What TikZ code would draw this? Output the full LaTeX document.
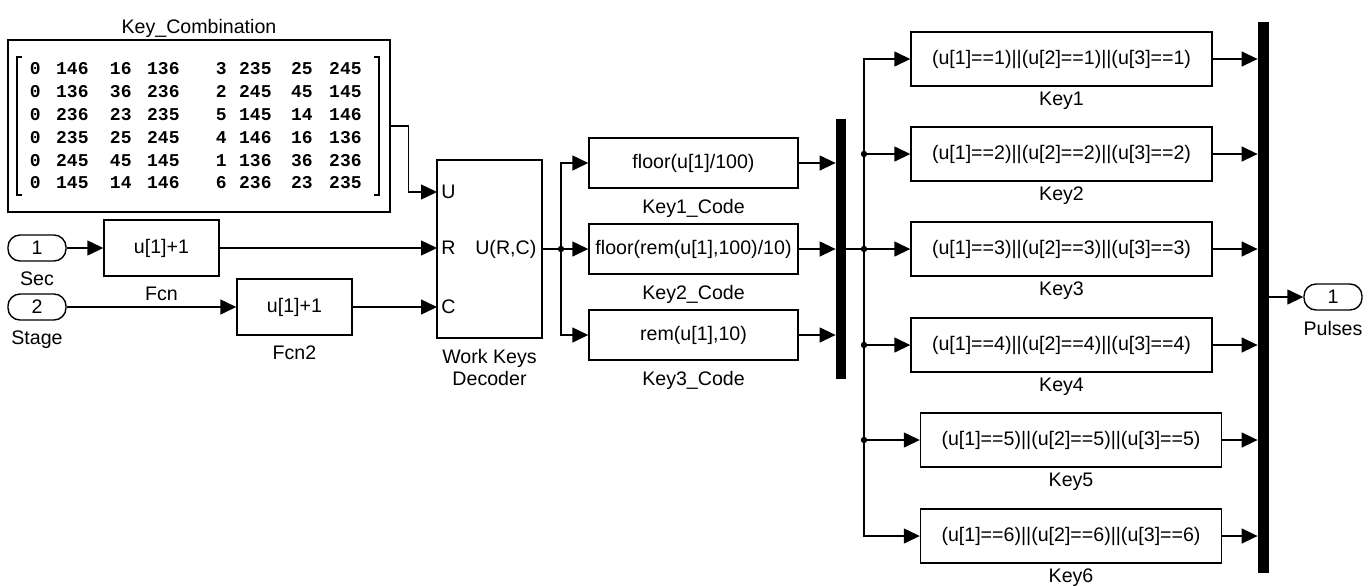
\documentclass[tikz,border=0pt]{standalone}
\usepackage{fontspec}
\setmainfont{Liberation Sans}
\newfontfamily\matfont{Liberation Mono}
\usetikzlibrary{arrows.meta, positioning, calc}

\begin{document}
\begin{tikzpicture}[x=0.5pt, y=-0.5pt,
		font=\fontsize{9.8}{11}\selectfont,
		blk/.style={draw, line width=0.7pt, inner sep=1pt},
		port/.style={draw, line width=0.7pt, rounded corners=6pt,
			minimum width=29pt, minimum height=13pt, inner sep=0pt},
		bar/.style={fill=black, inner sep=0pt},
		sig/.style={line width=0.7pt, -{Triangle[length=8pt, width=7.5pt]}},
		wire/.style={line width=0.7pt},
		label distance=3pt,
		every label/.style={inner sep=2pt}]
	\useasboundingbox (0,0) rectangle (1370,585);
	% constant matrix
	\node[blk, minimum width=191pt, minimum height=86pt,
		label={[label distance=-1.5pt]above:Key\_Combination}] (mat) at (199,126) {};
	\draw[line width=0.9pt] (22,57) -- (17,57) -- (17,195) -- (22,195);
	\draw[line width=0.9pt] (374,57) -- (379,57) -- (379,195) -- (374,195);
	\foreach \row [count=\i] in {{0,146,16,136,3,235,25,245},
			{0,136,36,236,2,245,45,145},
			{0,236,23,235,5,145,14,146},
			{0,235,25,245,4,146,16,136},
			{0,245,45,145,1,136,36,236},
			{0,145,14,146,6,236,23,235}}
		\foreach \v [count=\j] in \row {
			\pgfmathsetmacro\cx{{41,89,132,180,227,272,313,362}[\j-1]}
			\node[anchor=east, inner sep=0pt, font=\matfont\bfseries\fontsize{9}{10}\selectfont]
				at (\cx, {69+22.8*(\i-1)}) {\v};
		}
	% inputs
	\node[port, label=below:Sec] (sec) at (37,248) {1};
	\node[port, label=below:Stage] (stage) at (37,307) {2};
	\node[blk, minimum width=57.5pt, minimum height=28pt, label=below:Fcn] (fcn) at (161.5,248) {u[1]+1};
	\node[blk, minimum width=57.5pt, minimum height=28pt, label=below:Fcn2] (fcn2) at (294.5,307) {u[1]+1};
	% decoder
	\node[blk, minimum width=52.5pt, minimum height=89pt,
		label={[align=center]below:Work Keys\\Decoder}] (dec) at (489.5,249) {};
	\coordinate (inU) at (437,192);
	\coordinate (inR) at (437,248);
	\coordinate (inC) at (437,307);
	\node[anchor=west, inner sep=2pt] at (inU) {U};
	\node[anchor=west, inner sep=2pt] at (inR) {R};
	\node[anchor=west, inner sep=2pt] at (inC) {C};
	\node[anchor=east, inner sep=3pt] at (dec.east) {U(R,C)};
	\draw[sig] (mat.east) -- ++(18,0) |- (inU);
	\draw[sig] (sec.east) -- (fcn.west);
	\draw[sig] (fcn.east) -- (inR);
	\draw[sig] (stage.east) -- (fcn2.west);
	\draw[sig] (fcn2.east) -- (inC);
	% key codes
	\node[blk, minimum width=104.5pt, minimum height=25pt, label=below:Key1\_Code] (code1) at (693.5,163) {floor(u[1]/100)};
	\node[blk, minimum width=104.5pt, minimum height=25pt, label=below:Key2\_Code] (code2) at (693.5,249) {floor(rem(u[1],100)/10)};
	\node[blk, minimum width=104.5pt, minimum height=25pt, label=below:Key3\_Code] (code3) at (693.5,335) {rem(u[1],10)};
	\node[bar, minimum width=5pt, minimum height=130pt] (mux1) at (841,249) {};
	\coordinate (br1) at (561,249);
	\draw[sig] (dec.east) -- (code2.west);
	\draw[sig] (br1) |- (code1.west);
	\draw[sig] (br1) |- (code3.west);
	\fill (br1) circle (1.6pt);
	\foreach \k in {1,2,3}
		\draw[sig] (code\k.east) -- (code\k.east -| mux1.west);
	% keys
	\foreach \k/\y/\cx in {1/59/1061.5, 2/154/1061.5, 3/249/1061.5, 4/345/1061.5, 5/440/1071, 6/536/1071}
		\node[blk, minimum width=150.5pt, minimum height=27pt,
			label={[label distance=0.5pt]below:Key\k}] (key\k) at (\cx,\y)
			{(u[1]==\k)||(u[2]==\k)||(u[3]==\k)};
	\node[bar, minimum width=5.5pt, minimum height=275.5pt] (mux2) at (1263.5,297.5) {};
	\coordinate (br2) at (864,249);
	\draw[sig] (mux1.east) -- (key3.west);
	\foreach \k in {1,2,4,5,6}
		\draw[sig] (br2) |- (key\k.west);
	\foreach \k in {2,3,4,5}
		\fill (br2 |- key\k.west) circle (1.6pt);
	\foreach \k in {1,...,6}
		\draw[sig] (key\k.east) -- (key\k.east -| mux2.west);
	% output
	\node[port, label=below:Pulses] (pulses) at (1333,297) {1};
	\draw[sig] (mux2.east |- pulses.west) -- (pulses.west);
\end{tikzpicture}
\end{document}
